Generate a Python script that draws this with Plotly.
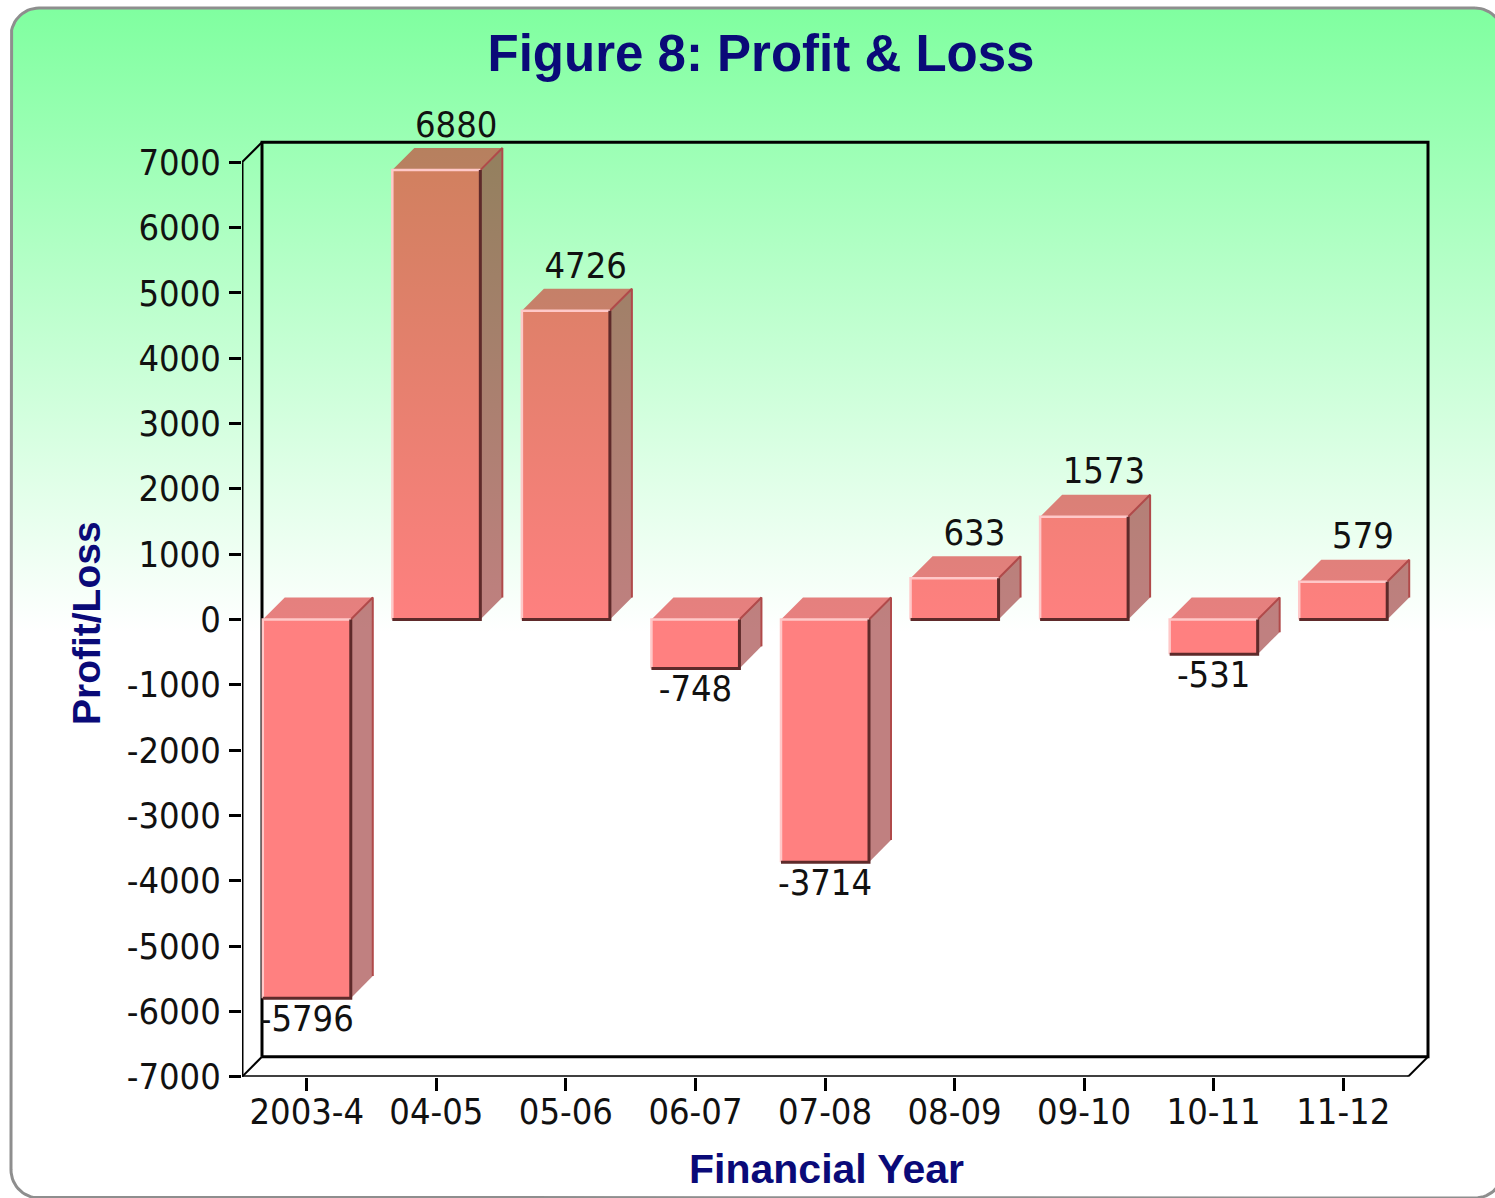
import numpy as np
import plotly.graph_objects as go

# ---------------- data ----------------
categories = ["2003-4", "04-05", "05-06", "06-07", "07-08", "08-09", "09-10", "10-11", "11-12"]
profit_loss = [-5796, 6880, 4726, -748, -3714, 633, 1573, -531, 579]
y_ticks = list(range(-7000, 7001, 1000))
y_tick_labels = [str(v) for v in y_ticks]

# ---------------- geometry ----------------
W, H_REF = 1495, 1198          # reference picture size
H = 1221                       # figure height (viewport is captured a bit taller)
KY = H / H_REF


def Y(py):                     # reference pixel row -> figure pixel row
    return py * KY


AX_L, AX_R = 242, 1408
AX_B, AX_T = Y(1075), Y(162)
YMIN, YMAX = -7000, 7000
DOM_R, DOM_T = 1445, Y(100)
cat_px = (AX_R - AX_L) / len(categories)
unit_px = (AX_B - AX_T) / (YMAX - YMIN)
x_range = [-0.5, -0.5 + (DOM_R - AX_L) / cat_px]
y_range = [YMIN, YMIN + (AX_B - DOM_T) / unit_px]
WALL, DEPTH = 20, 22
wdx, wdy = WALL / cat_px, WALL * KY / unit_px
bdx, bdy = DEPTH / cat_px, DEPTH * KY / unit_px
half = 44 / cat_px


def v_of_py(py):
    return YMIN + (AX_B - Y(py)) / unit_px


G_START, G_STOP = v_of_py(620), v_of_py(10)

FONT_TXT = "DejaVu Sans Condensed, DejaVu Sans, sans-serif"
FONT_BOLD = "Liberation Sans, Arial, sans-serif"
NAVY = "#0A0A78"

fig = go.Figure()


# ---------------- background (rounded panel with gradient) ----------------
def rounded_rect(x0, y0, x1, y1, r, n=16):
    xs, ys = [], []
    for cx, cy, a0, a1 in [(x1 - r, y0 + r, 90, 0), (x1 - r, y1 - r, 0, -90),
                           (x0 + r, y1 - r, -90, -180), (x0 + r, y0 + r, 180, 90)]:
        a = np.radians(np.linspace(a0, a1, n))
        xs += list(cx + r * np.cos(a))
        ys += list(Y(cy - r * np.sin(a)))
    xs.append(xs[0]); ys.append(ys[0])
    return xs, ys


bx, by = rounded_rect(11, 8, 1503, 1196, 28)
fig.add_trace(go.Scatter(
    x=bx, y=by, mode="lines", fill="toself",
    line=dict(color="#8E8E8E", width=3),
    fillgradient=dict(type="vertical", start=Y(10), stop=Y(620),
                      colorscale=[[0, "#80FFA0"], [1, "#FFFFFF"]]),
    xaxis="x", yaxis="y", hoverinfo="skip", showlegend=False))

# ---------------- 3D frame lines ----------------
xl, xr = -0.5, len(categories) - 0.5
fx, fy = [], []
segs = [
    [(xl, YMIN), (xr, YMIN)],
    [(xl, YMIN), (xl, YMAX)],
    [(xl + wdx, YMIN + wdy), (xr + wdx, YMIN + wdy), (xr + wdx, YMAX + wdy),
     (xl + wdx, YMAX + wdy), (xl + wdx, YMIN + wdy)],
]
for s in segs:
    for p in s:
        fx.append(p[0]); fy.append(p[1])
    fx.append(None); fy.append(None)
fig.add_trace(go.Scatter(x=fx, y=fy, mode="lines", line=dict(color="black", width=3),
                         xaxis="x2", yaxis="y2", hoverinfo="skip", showlegend=False))
dx_, dy_ = [], []
for (px, py) in [(xl, YMAX), (xl, YMIN), (xr, YMIN)]:
    dx_ += [px, px + wdx, None]
    dy_ += [py, py + wdy, None]
fig.add_trace(go.Scatter(x=dx_, y=dy_, mode="lines", line=dict(color="black", width=2),
                         xaxis="x2", yaxis="y2", hoverinfo="skip", showlegend=False))


# ---------------- bars ----------------
def grad(c0, c1):
    return dict(type="vertical", start=G_START, stop=G_STOP,
                colorscale=[[0, c0], [1, c1]])


FRONT = grad("rgb(255,128,128)", "rgb(193,128,84)")
SIDE = grad("rgb(192,128,128)", "rgb(134,128,84)")
TOP = grad("rgb(232,128,128)", "rgb(168,128,85)")


def poly(xs, ys, g):
    fig.add_trace(go.Scatter(x=xs + [xs[0]], y=ys + [ys[0]], mode="lines", fill="toself",
                             line=dict(width=0), fillgradient=g,
                             xaxis="x2", yaxis="y2", hoverinfo="skip", showlegend=False))


def edge(xs, ys, color, width):
    fig.add_trace(go.Scatter(x=xs, y=ys, mode="lines", line=dict(color=color, width=width),
                             xaxis="x2", yaxis="y2", hoverinfo="skip", showlegend=False))


for i, v in enumerate(profit_loss):
    x0, x1 = i - half, i + half
    lo, hi = min(0, v), max(0, v)
    poly([x0, x1, x1 + bdx, x0 + bdx], [hi, hi, hi + bdy, hi + bdy], TOP)
    poly([x1, x1 + bdx, x1 + bdx, x1], [lo, lo + bdy, hi + bdy, hi], SIDE)
    poly([x0, x1, x1, x0], [lo, lo, hi, hi], FRONT)
    edge([x1, x1 + bdx, x1 + bdx], [hi, hi + bdy, lo + bdy], "#B04A4A", 2)
    edge([x0, x0, x1], [lo, hi, hi], "#FFC8C8", 2.5)
    edge([x1, x1, x0], [hi, lo, lo], "#5E2A2A", 3)

# ---------------- value labels ----------------
pos_x, pos_y, pos_t = [], [], []
neg_x, neg_y, neg_t = [], [], []
for i, v in enumerate(profit_loss):
    if v >= 0:
        pos_x.append(i + bdx * 0.9); pos_y.append(v + bdy); pos_t.append(str(v))
    else:
        neg_x.append(i); neg_y.append(v); neg_t.append(str(v))
lab_font = dict(family=FONT_TXT, size=36, color="#111111")
fig.add_trace(go.Scatter(
    x=pos_x, y=pos_y, mode="markers+text", text=pos_t, textposition="top center",
    marker=dict(size=2, opacity=0), textfont=lab_font, cliponaxis=False,
    xaxis="x2", yaxis="y2", hoverinfo="skip", showlegend=False))
fig.add_trace(go.Scatter(
    x=neg_x, y=neg_y, mode="markers+text", text=neg_t, textposition="bottom center",
    marker=dict(size=8, opacity=0), textfont=lab_font, cliponaxis=False,
    xaxis="x2", yaxis="y2", hoverinfo="skip", showlegend=False))

# ---------------- layout ----------------
fig.update_layout(
    width=W, height=H,
    margin=dict(l=0, r=0, t=0, b=0),
    paper_bgcolor="white", plot_bgcolor="rgba(0,0,0,0)",
    showlegend=False, hovermode=False,
    xaxis=dict(domain=[0, 1], range=[0, W], visible=False, fixedrange=True),
    yaxis=dict(domain=[0, 1], range=[H, 0], visible=False, fixedrange=True),
    xaxis2=dict(domain=[AX_L / W, DOM_R / W], range=x_range, anchor="y2",
                showgrid=False, zeroline=False, showline=False,
                tickmode="array", tickvals=list(range(len(categories))), ticktext=categories,
                ticks="outside", ticklen=13, tickwidth=3, tickcolor="black",
                tickfont=dict(family=FONT_TXT, size=36, color="#111111"),
                ticklabelstandoff=-10, fixedrange=True),
    yaxis2=dict(domain=[1 - AX_B / H, 1 - DOM_T / H], range=y_range, anchor="x2",
                showgrid=False, zeroline=False, showline=False,
                tickmode="array", tickvals=y_ticks, ticktext=y_tick_labels,
                ticks="outside", ticklen=12, tickwidth=3, tickcolor="black",
                tickfont=dict(family=FONT_TXT, size=36, color="#111111"),
                ticklabelstandoff=1, fixedrange=True),
    title=dict(text="<b>Figure 8: Profit &amp; Loss</b>", x=761 / W, y=1 - Y(52) / H,
               xanchor="center", yanchor="middle",
               font=dict(family=FONT_BOLD, size=51, color=NAVY)),
    annotations=[
        dict(text="<b>Financial Year</b>", xref="paper", yref="paper",
             x=826 / W, y=1 - Y(1167) / H, xanchor="center", yanchor="middle",
             showarrow=False, font=dict(family=FONT_BOLD, size=41, color=NAVY)),
        dict(text="<b>Profit/Loss</b>", xref="paper", yref="paper", textangle=-90,
             x=86 / W, y=1 - Y(622) / H, xanchor="center", yanchor="middle",
             showarrow=False, font=dict(family=FONT_BOLD, size=39, color=NAVY)),
    ],
)

fig.write_html("out.html", config={"displayModeBar": False},
               post_script="document.body.style.margin='0px';")
